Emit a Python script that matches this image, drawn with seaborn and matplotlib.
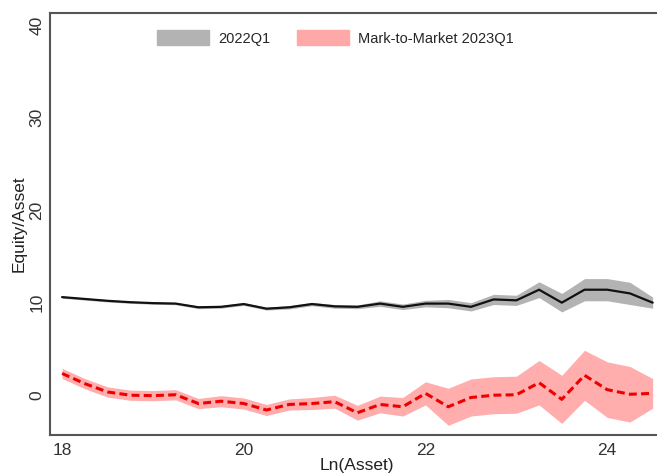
import numpy as np
import pandas as pd
import matplotlib
matplotlib.use("Agg")
import matplotlib.pyplot as plt
import seaborn as sns
from matplotlib.patches import Patch

# Ln(Asset) grid, 0.25 steps
ln_asset = [18.0, 18.25, 18.5, 18.75, 19.0, 19.25, 19.5, 19.75, 20.0, 20.25,
            20.5, 20.75, 21.0, 21.25, 21.5, 21.75, 22.0, 22.25, 22.5, 22.75,
            23.0, 23.25, 23.5, 23.75, 24.0, 24.25, 24.5]

# equity/asset 2022Q1 (book) and its band half-width
eq_2022 = [10.6, 10.4, 10.2, 10.05, 9.95, 9.9, 9.5, 9.55, 9.85, 9.35,
           9.5, 9.85, 9.6, 9.55, 9.9, 9.55, 9.9, 9.9, 9.55, 10.35,
           10.25, 11.4, 10.0, 11.4, 11.4, 11.0, 10.0]
ci_2022 = [0.12, 0.12, 0.12, 0.12, 0.12, 0.12, 0.15, 0.15, 0.15, 0.15,
           0.18, 0.18, 0.2, 0.2, 0.3, 0.3, 0.35, 0.45, 0.45, 0.55,
           0.55, 0.85, 1.0, 1.2, 1.2, 1.2, 0.6]

# mark-to-market 2023Q1 and its band half-width
eq_mtm = [2.35, 1.25, 0.35, 0.0, -0.05, 0.05, -0.9, -0.65, -0.9, -1.6,
          -1.0, -0.9, -0.7, -1.9, -1.0, -1.25, 0.2, -1.25, -0.25, 0.0,
          0.05, 1.35, -0.45, 2.15, 0.6, 0.1, 0.2]
ci_mtm = [0.55, 0.55, 0.55, 0.55, 0.55, 0.55, 0.55, 0.6, 0.6, 0.6,
          0.6, 0.65, 0.7, 0.8, 0.9, 1.0, 1.25, 2.0, 2.0, 2.0,
          2.0, 2.4, 2.6, 2.7, 3.0, 3.0, 1.6]

df = pd.DataFrame({"ln_asset": ln_asset, "eq_2022": eq_2022, "ci_2022": ci_2022,
                   "eq_mtm": eq_mtm, "ci_mtm": ci_mtm})

sns.set_style("white")
plt.rcParams["font.family"] = ["Liberation Sans", "DejaVu Sans"]

fig = plt.figure(figsize=(6.57, 4.74), dpi=100)
ax = fig.add_axes([50 / 657, 1 - 435 / 474, 1 - 50 / 657 + 0.01, (435 - 13) / 474])

ax.fill_between(df.ln_asset, df.eq_2022 - df.ci_2022, df.eq_2022 + df.ci_2022,
                color="#b3b3b3", lw=0)
ax.fill_between(df.ln_asset, df.eq_mtm - df.ci_mtm, df.eq_mtm + df.ci_mtm,
                color="#ffadad", lw=0)
sns.lineplot(data=df, x="ln_asset", y="eq_2022", ax=ax, color="#111111", lw=1.6)
sns.lineplot(data=df, x="ln_asset", y="eq_mtm", ax=ax, color="#ee0000", lw=2.2,
             dashes=False, linestyle=(0, (2.6, 1.4)))

ax.set_xlim(17.867, 24.62)
ax.set_ylim(-4.3, 41.3)
ax.set_xticks([18, 20, 22, 24])
ax.set_yticks([0, 10, 20, 30, 40])
ax.tick_params(axis="both", labelsize=12.5, colors="#333333", length=0)
ax.tick_params(axis="x", pad=6)
ax.tick_params(axis="y", pad=4)
for lab in ax.get_yticklabels():
    lab.set_rotation(90)
    lab.set_va("center")
ax.set_xlabel("Ln(Asset)", fontsize=12.5, color="#222222", labelpad=0)
ax.set_ylabel("Equity/Asset", fontsize=12.5, color="#222222", labelpad=2)

for side in ["left", "bottom", "top"]:
    ax.spines[side].set_color("#555555")
    ax.spines[side].set_linewidth(1.5)
ax.spines["right"].set_visible(False)

handles = [Patch(color="#b3b3b3", label="2022Q1"),
           Patch(color="#ffa8a8", label="Mark-to-Market 2023Q1")]
ax.legend(handles=handles, loc="upper center", bbox_to_anchor=(0.465, 0.99), ncol=2,
          frameon=False, fontsize=10.5, handlelength=3.6, handleheight=1.2,
          columnspacing=1.8, handletextpad=0.6)

fig.savefig("out.png", dpi=100)
